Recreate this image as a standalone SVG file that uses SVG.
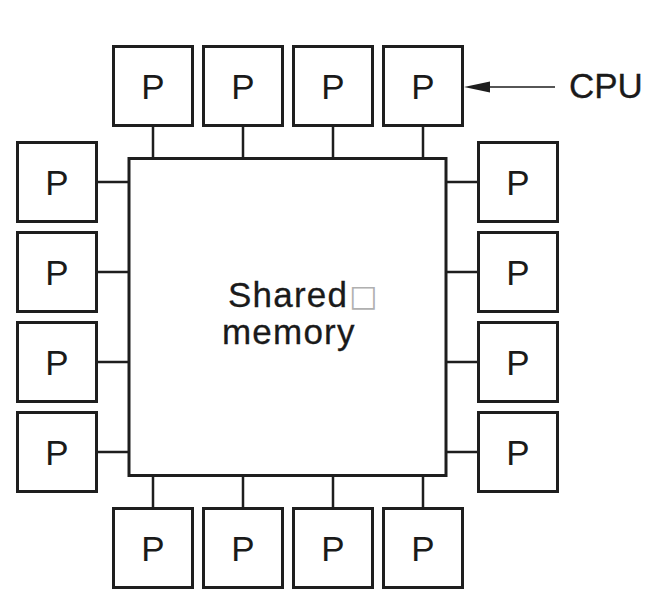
<svg xmlns="http://www.w3.org/2000/svg" width="662" height="606" viewBox="0 0 662 606">
<style>
.box{fill:#fff;stroke:#1e1e1e;stroke-width:3}
.mem{fill:#fff;stroke:#1e1e1e;stroke-width:3}
.lbl{font-family:"Liberation Sans",Arial,sans-serif;font-size:35px;fill:#1a1a1a;text-anchor:middle}
.txt{font-family:"Liberation Sans",Arial,sans-serif;font-size:35px;fill:#1a1a1a;stroke:#1a1a1a;stroke-width:0.3}
.con{stroke:#1e1e1e;stroke-width:2.5;fill:none}
</style>
<rect width="662" height="606" fill="#fff"/>
<g id="connectors">
<path class="con" d="M153,126V158M243,126V158M333,126V158M423,126V158"/>
<path class="con" d="M153,476V508M243,476V508M333,476V508M423,476V508"/>
<path class="con" d="M97,182H129M97,272H129M97,362H129M97,452H129"/>
<path class="con" d="M446,182H478M446,272H478M446,362H478M446,452H478"/>
<line x1="555" y1="87" x2="470" y2="87" stroke="#1e1e1e" stroke-width="1.5"/>
<path d="M464,87 L490,81.5 L490,92.5 Z" fill="#1e1e1e"/>
</g>
<g id="memory">
<rect class="mem" x="129" y="158.5" width="317" height="317"/>
<text class="txt" x="228" y="307" letter-spacing="1.2">Shared</text>
<text x="349" y="306" font-family="DejaVu Sans,sans-serif" font-size="30" fill="#b0b0b0">□</text>
<text class="txt" x="222" y="344" letter-spacing="1.2">memory</text>
</g>
<g id="cpu-label"><text class="txt" x="569" y="98">CPU</text></g>
<g id="top">
<g id="p-t1"><rect class="box" x="113.5" y="46.5" width="79" height="79"/><text class="lbl" x="153" y="99">P</text></g>
<g id="p-t2"><rect class="box" x="203.5" y="46.5" width="79" height="79"/><text class="lbl" x="243" y="99">P</text></g>
<g id="p-t3"><rect class="box" x="293.5" y="46.5" width="79" height="79"/><text class="lbl" x="333" y="99">P</text></g>
<g id="p-t4"><rect class="box" x="383.5" y="46.5" width="79" height="79"/><text class="lbl" x="423" y="99">P</text></g>
</g>
<g id="bottom">
<g id="p-b1"><rect class="box" x="113.5" y="508.5" width="79" height="79"/><text class="lbl" x="153" y="561">P</text></g>
<g id="p-b2"><rect class="box" x="203.5" y="508.5" width="79" height="79"/><text class="lbl" x="243" y="561">P</text></g>
<g id="p-b3"><rect class="box" x="293.5" y="508.5" width="79" height="79"/><text class="lbl" x="333" y="561">P</text></g>
<g id="p-b4"><rect class="box" x="383.5" y="508.5" width="79" height="79"/><text class="lbl" x="423" y="561">P</text></g>
</g>
<g id="left">
<g id="p-l1"><rect class="box" x="17.5" y="142.5" width="79" height="79"/><text class="lbl" x="57" y="195">P</text></g>
<g id="p-l2"><rect class="box" x="17.5" y="232.5" width="79" height="79"/><text class="lbl" x="57" y="285">P</text></g>
<g id="p-l3"><rect class="box" x="17.5" y="322.5" width="79" height="79"/><text class="lbl" x="57" y="375">P</text></g>
<g id="p-l4"><rect class="box" x="17.5" y="412.5" width="79" height="79"/><text class="lbl" x="57" y="465">P</text></g>
</g>
<g id="right">
<g id="p-r1"><rect class="box" x="478.5" y="142.5" width="79" height="79"/><text class="lbl" x="518" y="195">P</text></g>
<g id="p-r2"><rect class="box" x="478.5" y="232.5" width="79" height="79"/><text class="lbl" x="518" y="285">P</text></g>
<g id="p-r3"><rect class="box" x="478.5" y="322.5" width="79" height="79"/><text class="lbl" x="518" y="375">P</text></g>
<g id="p-r4"><rect class="box" x="478.5" y="412.5" width="79" height="79"/><text class="lbl" x="518" y="465">P</text></g>
</g>
</svg>
